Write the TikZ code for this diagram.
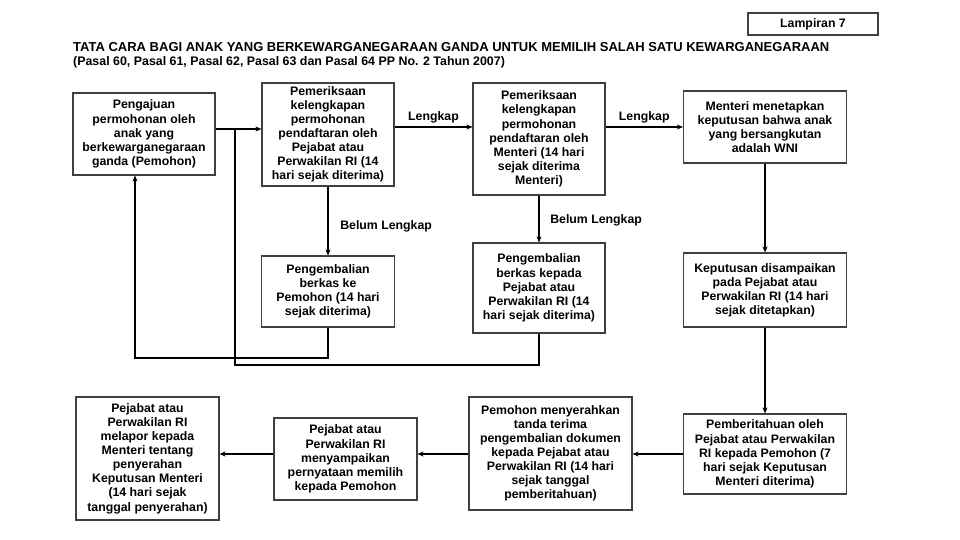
\documentclass[tikz,border=0pt]{standalone}
\usepackage{fontspec}
\setmainfont{Liberation Sans}
\usetikzlibrary{arrows.meta}
\begin{document}
\begin{tikzpicture}[x=1pt, y=-1pt, >={Stealth[length=6pt,width=5pt]},
  box/.style={draw=black!75, line width=1.1pt, fill=white, align=center, inner sep=2pt,
    font=\fontsize{12.3}{14.1}\selectfont\bfseries},
  flow/.style={->, line width=1.9pt},
  lbl/.style={font=\fontsize{12.3}{14.1}\selectfont\bfseries}]
  \useasboundingbox[fill=white] (0,0) rectangle (960,540);
  \node[box, minimum width=130, minimum height=22] (lamp) at (813,24) {Lampiran 7};
  \node[anchor=west, inner sep=0, font=\fontsize{13}{15}\selectfont\bfseries] (title) at (73,47)
    {TATA CARA BAGI ANAK YANG BERKEWARGANEGARAAN GANDA UNTUK MEMILIH SALAH SATU KEWARGANEGARAAN};
  \node[anchor=west, inner sep=0, font=\fontsize{12.4}{15}\selectfont\bfseries] (subtitle) at (73,62)
    {(Pasal 60, Pasal 61, Pasal 62, Pasal 63 dan Pasal 64 PP No. 2 Tahun 2007)};

  \node[box, minimum width=142, minimum height=82] (apply) at (144,134)
    {Pengajuan\\permohonan oleh\\anak yang\\berkewarganegaraan\\ganda (Pemohon)};
  \node[box, minimum width=132, minimum height=103] (check1) at (328,134.5)
    {Pemeriksaan\\kelengkapan\\permohonan\\pendaftaran oleh\\Pejabat atau\\Perwakilan RI (14\\hari sejak diterima)};
  \node[box, minimum width=132, minimum height=112] (check2) at (539,139)
    {Pemeriksaan\\kelengkapan\\permohonan\\pendaftaran oleh\\Menteri (14 hari\\sejak diterima\\Menteri)};
  \node[box, minimum width=163, minimum height=72] (decide) at (765,127)
    {Menteri menetapkan\\keputusan bahwa anak\\yang bersangkutan\\adalah WNI};
  \node[box, minimum width=133, minimum height=71] (back1) at (328,291.5)
    {Pengembalian\\berkas ke\\Pemohon (14 hari\\sejak diterima)};
  \node[box, minimum width=132, minimum height=90] (back2) at (539,288)
    {Pengembalian\\berkas kepada\\Pejabat atau\\Perwakilan RI (14\\hari sejak diterima)};
  \node[box, minimum width=163, minimum height=74] (deliver) at (765,290)
    {Keputusan disampaikan\\pada Pejabat atau\\Perwakilan RI (14 hari\\sejak ditetapkan)};
  \node[box, minimum width=163, minimum height=80] (notify) at (765,454)
    {Pemberitahuan oleh\\Pejabat atau Perwakilan\\RI kepada Pemohon (7\\hari sejak Keputusan\\Menteri diterima)};
  \node[box, minimum width=163, minimum height=113] (handin) at (550.5,453.5)
    {Pemohon menyerahkan\\tanda terima\\pengembalian dokumen\\kepada Pejabat atau\\Perwakilan RI (14 hari\\sejak tanggal\\pemberitahuan)};
  \node[box, minimum width=143, minimum height=82] (declare) at (345.5,459)
    {Pejabat atau\\Perwakilan RI\\menyampaikan\\pernyataan memilih\\kepada Pemohon};
  \node[box, minimum width=143, minimum height=123] (report) at (147.5,458.5)
    {Pejabat atau\\Perwakilan RI\\melapor kepada\\Menteri tentang\\penyerahan\\Keputusan Menteri\\(14 hari sejak\\tanggal penyerahan)};

  \coordinate (join) at (235,129);
  \draw[flow] (apply.east |- join) -- (check1.west |- join);
  \draw[flow] (check1.east |- decide.west) -- node[lbl, above] {Lengkap} (check2.west |- decide.west);
  \draw[flow] (check2.east |- decide.west) -- node[lbl, above] {Lengkap} (decide.west);
  \draw[flow] (check1.south) -- node[lbl, right, pos=0.58, xshift=8] {Belum Lengkap} (back1.north);
  \draw[flow] (check2.south) -- node[lbl, right, pos=0.52, xshift=7] {Belum Lengkap} (back2.north);
  \draw[flow] (decide.south) -- (deliver.north);
  \draw[flow] (deliver.south) -- (notify.north);
  \draw[flow] (notify.west) -- (handin.east |- notify.west);
  \draw[flow] (handin.west |- notify.west) -- (declare.east |- notify.west);
  \draw[flow] (declare.west |- notify.west) -- (report.east |- notify.west);
  \draw[flow] (back1.south) -- ++(0,30) -| ([xshift=-9]apply.south);
  \draw[line width=1.9pt] (back2.south) -- ++(0,31) -| (join);
\end{tikzpicture}
\end{document}
